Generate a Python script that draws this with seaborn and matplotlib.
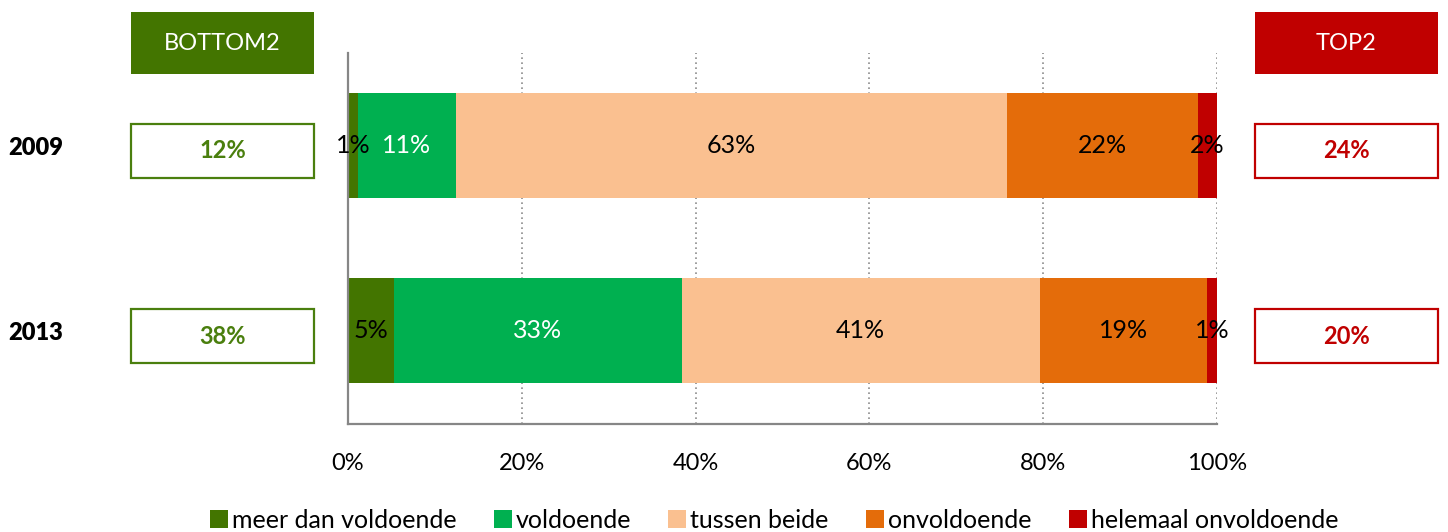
import numpy as np
import pandas as pd
import matplotlib
matplotlib.use("Agg")
import matplotlib.pyplot as plt
from matplotlib.patches import Rectangle, Patch
import seaborn as sns

years = ["2009", "2013"]
categories = ["meer dan voldoende", "voldoende", "tussen beide",
              "onvoldoende", "helemaal onvoldoende"]
meer_dan_voldoende = [1.1, 5.3]
voldoende = [11.3, 33.1]
tussen_beide = [63.4, 41.2]
onvoldoende = [22.0, 19.2]
helemaal_onvoldoende = [2.2, 1.2]

colors = ["#437500", "#00B050", "#FAC090", "#E46C0A", "#C00000"]
label_colors = ["black", "white", "black", "black", "black"]
green_txt = "#4A7F0E"
red_txt = "#C00000"

sns.set_style("white")
plt.rcParams["font.family"] = ["Lato", "DejaVu Sans"]
plt.rcParams["text.color"] = "black"
plt.rcParams["xtick.color"] = "black"
plt.rcParams["ytick.color"] = "black"

vals = np.array([meer_dan_voldoende, voldoende, tussen_beide,
                 onvoldoende, helemaal_onvoldoende])
cum = np.cumsum(vals, axis=0)
df = pd.DataFrame({"jaar": years})
for i, c in enumerate(categories):
    df[c] = cum[i]

W, H = 1448, 532
fig = plt.figure(figsize=(W / 100, H / 100), dpi=100)
ax = fig.add_axes([348 / W, 1 - 424 / H, (1217 - 348) / W, (424 - 53) / H])

# stacked look: draw cumulative totals from the largest down
for i in reversed(range(len(categories))):
    sns.barplot(data=df, x=categories[i], y="jaar", orient="h", color=colors[i],
                saturation=1, width=0.567, linewidth=0, ax=ax)

ax.set_xlim(0, 100)
ax.set_ylim(1.505, -0.5)
ax.set_xticks(range(0, 101, 20))
ax.set_xticklabels([f"{t}%" for t in range(0, 101, 20)])
ax.set_xlabel("")
ax.set_ylabel("")
ax.xaxis.grid(True, linestyle=(0, (1, 2)), color="#8C8C8C", linewidth=1.2)
ax.yaxis.grid(False)
ax.set_axisbelow(True)
for s in ["top", "right"]:
    ax.spines[s].set_visible(False)
for s in ["left", "bottom"]:
    ax.spines[s].set_color("#868686")
    ax.spines[s].set_linewidth(1.6)
ax.tick_params(axis="x", length=0, labelsize=17, pad=21)
ax.tick_params(axis="y", length=0, labelsize=17, pad=205)
for lbl in ax.get_yticklabels():
    lbl.set_fontweight("heavy")

# value labels in the segments
for j, yr in enumerate(years):
    for i in range(len(categories)):
        center = cum[i][j] - vals[i][j] / 2
        ax.text(center, j, f"{vals[i][j]:.0f}%", ha="center", va="center",
                fontsize=18, color=label_colors[i])

# BOTTOM2 / TOP2 header boxes
bx_w = 183 / W
for x0, txt, col in [(131, "BOTTOM2", colors[0]), (1255, "TOP2", red_txt)]:
    fig.add_artist(Rectangle((x0 / W, 1 - 74 / H), bx_w, 62 / H,
                             transform=fig.transFigure, facecolor=col,
                             edgecolor="none"))
    fig.text(x0 / W + bx_w / 2, 1 - 43 / H, txt, ha="center", va="center",
             color="white", fontsize=17)

# bottom2 / top2 totals per year
bottom2 = vals[0] + vals[1]
top2 = vals[3] + vals[4]
box_tops = [124, 309]
for j in range(len(years)):
    y0 = 1 - (box_tops[j] + 54) / H
    for x0, v, col in [(131, bottom2[j], green_txt), (1255, top2[j], red_txt)]:
        fig.add_artist(Rectangle((x0 / W, y0), bx_w, 54 / H,
                                 transform=fig.transFigure, facecolor="white",
                                 edgecolor=col, linewidth=1.6))
        fig.text(x0 / W + bx_w / 2, y0 + 27 / H, f"{v:.0f}%", ha="center",
                 va="center", color=col, fontsize=17, fontweight="bold")

handles = [Patch(facecolor=c, edgecolor="none", label=l)
           for c, l in zip(colors, categories)]
fig.legend(handles=handles, loc="center", bbox_to_anchor=(0.5345, 0.022),
           ncol=5, frameon=False, fontsize=18, handlelength=0.72,
           handleheight=0.72, handletextpad=0.15, columnspacing=1.5)

fig.savefig("out.png", dpi=100)
